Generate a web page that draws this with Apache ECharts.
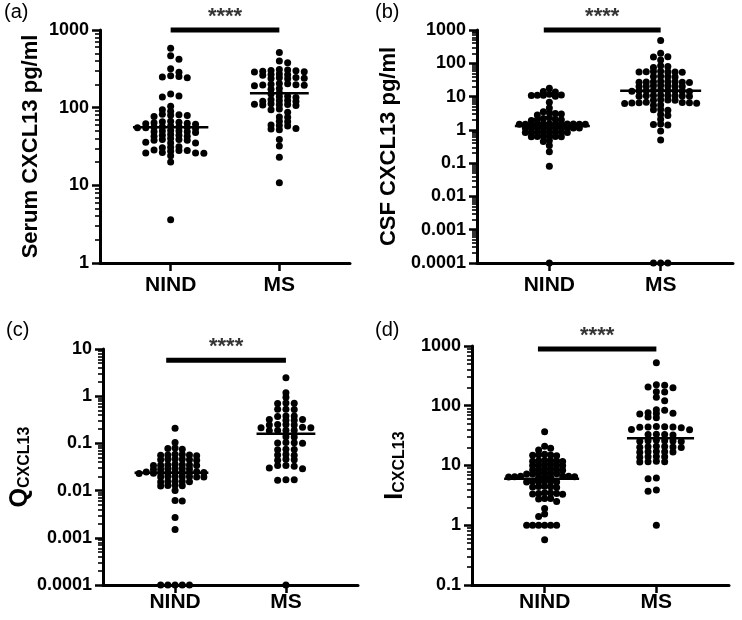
<!DOCTYPE html>
<html><head><meta charset="utf-8">
<script src="https://cdn.jsdelivr.net/npm/echarts@6/dist/echarts.min.js"></script>
<style>html,body{margin:0;padding:0;background:#fff}#c{width:742px;height:620px}</style>
</head><body><div id="c"></div>
<script>
// ---------------- data ----------------
const groups = ['NIND', 'MS'];

const serumNIND = [580, 465, 420, 316, 285, 258, 252, 248, 243, 150, 141, 137, 104, 94, 90,
  82, 81, 80, 79, 77,
  67, 66, 65, 64, 63, 62, 61,
  58, 57, 57, 56, 56, 55, 55, 54,
  51, 50, 50, 49, 49, 48,
  45, 44, 44, 43, 43,
  40, 39, 39, 38, 38,
  36, 35, 35,
  31.5, 31, 30.5,
  28.5, 28, 28, 27.5,
  26.5, 26, 26, 25.8,
  24, 20, 3.6];
const serumMS = [515, 398, 378,
  310, 305, 300, 298, 295, 290, 288,
  272, 268, 265, 262,
  245, 242, 240, 238, 235,
  205, 203, 200, 198, 196, 194, 192,
  177, 172, 155, 150,
  140, 138, 135,
  126, 124, 123, 121, 120,
  112, 111, 110, 109, 108, 107,
  96, 94, 87, 76, 75, 67, 66,
  60, 59, 58, 54, 53, 52,
  39, 32, 23, 10.8];

const csfNIND = [17.7, 14.2, 13.8, 11.8, 11.1, 11, 10.9, 10.8, 10.3,
  6.8,
  4.5, 3.5, 3.3, 3.1, 3.0, 2.8,
  2.3, 2.2, 2.1, 2.0, 2.0, 1.9,
  1.53, 1.52, 1.51, 1.5, 1.5, 1.49, 1.49, 1.48, 1.48, 1.47, 1.47, 1.46,
  1.16, 1.16, 1.15, 1.15, 1.15, 1.14, 1.14, 1.13, 1.13, 1.12,
  0.86, 0.86, 0.85, 0.85, 0.85, 0.84, 0.84, 0.83,
  0.64, 0.64, 0.63, 0.63, 0.62, 0.62,
  0.48, 0.45, 0.34, 0.22, 0.08, 0.0001];
const csfMS = [480, 200, 158, 155, 126, 85, 80, 75,
  58, 57, 56, 56, 55, 55, 54,
  41, 40, 40, 39,
  29, 28.5, 28, 28, 27.5, 27, 27, 26.5,
  21.5, 21, 21, 20.5, 20.5, 20, 20,
  15.5, 15.3, 15.1, 15, 14.9, 14.7, 14.5, 14.4, 14.2,
  10.9, 10.8, 10.7, 10.6, 10.5, 10.4, 10.3, 10.2,
  8.0, 7.9, 7.8, 7.7,
  6.7, 6.6, 6.5, 6.5, 6.4, 6.3, 6.2,
  5.6, 5.5, 4.1, 4.0, 3.9, 2.9, 2.7, 2.1,
  1.5, 1.45, 1.4, 0.93, 0.5,
  0.0001, 0.0001, 0.0001];

const qNIND = [0.21, 0.105, 0.08, 0.078, 0.075,
  0.059, 0.058, 0.057, 0.057, 0.056, 0.055,
  0.047, 0.046, 0.046, 0.045, 0.045, 0.044,
  0.036, 0.0355, 0.035, 0.035, 0.0345, 0.034, 0.034,
  0.0295, 0.029, 0.029, 0.0288, 0.0285, 0.028,
  0.025, 0.0248, 0.0245, 0.0242, 0.024, 0.024, 0.0238, 0.0235, 0.0232, 0.023,
  0.020, 0.0199, 0.0197, 0.0196, 0.0195, 0.0194, 0.0193,
  0.0158, 0.0156, 0.0155, 0.0154, 0.0152,
  0.013, 0.0128, 0.0126, 0.0125,
  0.0101, 0.0062, 0.006, 0.0027, 0.0015,
  0.0001, 0.0001, 0.0001, 0.0001, 0.0001];
const qMS = [2.47, 1.19, 0.95,
  0.72, 0.71, 0.70,
  0.53, 0.53, 0.52,
  0.38, 0.38, 0.37,
  0.32, 0.32, 0.31, 0.31,
  0.25, 0.25, 0.245, 0.245,
  0.22, 0.215, 0.215,
  0.19, 0.19, 0.188, 0.186,
  0.139, 0.137,
  0.104, 0.103, 0.102, 0.101,
  0.075, 0.074, 0.073,
  0.058, 0.057, 0.056,
  0.046, 0.045, 0.044,
  0.034, 0.034, 0.033,
  0.03, 0.029,
  0.017, 0.017, 0.0165,
  0.0001];

const iNIND = [36.8, 21, 19.5, 18.2,
  15.5, 15.2, 15, 14.8, 14.6,
  12.3, 12.1, 12, 11.9, 11.8, 11.7,
  10.4, 10.3, 10.2, 10.1, 10, 9.9,
  8.8, 8.7, 8.6, 8.5, 8.4, 8.3,
  7.5, 7.4, 7.4, 7.3, 7.2, 7.2,
  6.7, 6.6, 6.6, 6.5, 6.5, 6.4, 6.4, 6.3, 6.3,
  5.5, 5.45, 5.4, 5.35, 5.3, 5.3,
  4.5, 4.45, 4.4, 4.35, 4.3,
  3.5, 3.45, 3.4, 3.4, 3.35, 3.3,
  2.8, 2.8, 2.75, 2.5,
  1.9, 1.55, 1.4,
  1, 1, 1, 1, 1, 1,
  0.57];
const iMS = [525,
  225, 220, 205, 200,
  172, 170, 139, 121,
  86, 84,
  76, 75, 74, 73,
  65, 63,
  45, 44.5, 44, 44, 43.5, 43,
  40, 39.5,
  33.5, 33, 33, 32.5,
  26.5, 26, 26, 25.8, 25.5, 25.2,
  21, 20.8, 20.6, 20.4, 20.2, 20,
  17.2, 17, 17, 16.8, 16.6,
  14.2, 14, 14, 13.8,
  11.8, 11.6, 11.5, 11.4,
  6.2, 6.0, 3.9, 3.7, 1.0];

const medianSerum = [56, 153];
const medianCSF = [1.3, 15];
const medianQ = [0.024, 0.16];
const medianI = [6, 28.5];

const ticksSerum = [1, 10, 100, 1000];
const labelsSerum = ['1', '10', '100', '1000'];
const ticksCSF = [0.0001, 0.001, 0.01, 0.1, 1, 10, 100, 1000];
const labelsCSF = ['0.0001', '0.001', '0.01', '0.1', '1', '10', '100', '1000'];
const ticksQ = [0.0001, 0.001, 0.01, 0.1, 1, 10];
const labelsQ = ['0.0001', '0.001', '0.01', '0.1', '1', '10'];
const ticksI = [0.1, 1, 10, 100, 1000];
const labelsI = ['0.1', '1', '10', '100', '1000'];

const sigLevel = [1000, 1000, 5.8, 890];
const sigStart = [1.0, 0.95, 0.92, 0.94];
const sigEnd = [2.0, 2.0, 2.0, 2.0];
const sigText = '****';

// ---------------- layout ----------------
const FONT = '"Liberation Sans", Arial, Helvetica, sans-serif';
const XMIN = 0.35, XMAX = 2.65;
const DX = 8.3, MAXHALF = 36, VGAP = 3.8, DOT = 7;

const panels = [
  { letter: '(a)', name: 'Serum CXCL13 pg/ml', data: [serumNIND, serumMS], med: medianSerum,
    ticks: ticksSerum, labels: labelsSerum, grid: { left: 100, top: 30, width: 250, height: 233 },
    nameGap: 58, letterPos: [4, 2], xMargin: 12 },
  { letter: '(b)', name: 'CSF CXCL13 pg/ml', data: [csfNIND, csfMS], med: medianCSF,
    ticks: ticksCSF, labels: labelsCSF, grid: { left: 477, top: 30, width: 256, height: 233 },
    nameGap: 77, letterPos: [375, 2], xMargin: 12 },
  { letter: '(c)', name: '{a|Q}{b|CXCL13}', data: [qNIND, qMS], med: medianQ,
    ticks: ticksQ, labels: labelsQ, grid: { left: 103, top: 349, width: 255, height: 236 },
    nameGap: 65, letterPos: [6, 320], xMargin: 7 },
  { letter: '(d)', name: '{a|I}{b|CXCL13}', data: [iNIND, iMS], med: medianI,
    ticks: ticksI, labels: labelsI, grid: { left: 472, top: 346, width: 257, height: 239 },
    nameGap: 64, letterPos: [375, 320], xMargin: 7 }
];

function swarm(values, center, p) {
  const lo = Math.log10(p.ticks[0]), hi = Math.log10(p.ticks[p.ticks.length - 1]);
  const pxY = p.grid.height / (hi - lo);
  const pxX = p.grid.width / (XMAX - XMIN);
  const pts = values.map(v => ({ v, py: (Math.log10(v) - lo) * pxY })).sort((a, b) => b.py - a.py);
  const cols = new Map();
  let flip = 1, maxK = 0;
  pts.forEach(pt => {
    let k = null;
    for (let j = 0; k === null; j++) {
      const cands = j === 0 ? [0] : (flip > 0 ? [j, -j] : [-j, j]);
      for (const c of cands) {
        const arr = cols.get(c) || [];
        if (!arr.some(q => Math.abs(q - pt.py) < VGAP)) {
          k = c; arr.push(pt.py); cols.set(c, arr); break;
        }
      }
    }
    pt.k = k; flip = -flip; maxK = Math.max(maxK, Math.abs(k));
  });
  const step = Math.min(DX, maxK ? MAXHALF / maxK : DX);
  const pts2 = pts.map(pt => [center + pt.k * step / pxX, pt.v]);
  let xmin = center, xmax = center;
  pts2.forEach(d => { xmin = Math.min(xmin, d[0]); xmax = Math.max(xmax, d[0]); });
  const pad = (DOT / 2 + 1) / pxX;
  return { pts: pts2, x0: xmin - pad, x1: xmax + pad };
}

function minorOf(ticks) {
  const out = [];
  for (let i = 0; i < ticks.length - 1; i++) for (let m = 2; m <= 9; m++) out.push(+(ticks[i] * m).toPrecision(6));
  return out;
}

const grid = [], xAxis = [], yAxis = [], series = [], graphic = [];
panels.forEach((p, i) => {
  grid.push(Object.assign({ containLabel: false }, p.grid));
  xAxis.push({
    type: 'value', gridIndex: i, min: XMIN, max: XMAX,
    axisLine: { show: true, lineStyle: { color: '#000', width: 3 } },
    axisTick: { show: true, customValues: [1, 2], length: 8, lineStyle: { color: '#000', width: 2.5 } },
    axisLabel: { show: true, customValues: [1, 2], margin: p.xMargin, formatter: v => groups[Math.round(v) - 1] || '',
      color: '#000', fontSize: 21, fontWeight: 'bold', fontFamily: FONT },
    splitLine: { show: false }
  });
  const yMin = p.ticks[0], yMax = p.ticks[p.ticks.length - 1];
  yAxis.push({
    type: 'log', logBase: 10, gridIndex: i, position: 'left', min: yMin, max: yMax,
    name: p.name, nameLocation: 'middle', nameRotate: 90, nameGap: p.nameGap,
    nameTextStyle: { color: '#000', fontSize: 22, fontWeight: 'bold', fontFamily: FONT,
      rich: { a: { fontSize: 25, fontWeight: 'bold', fontFamily: FONT, color: '#000' },
              b: { fontSize: 16, fontWeight: 'bold', fontFamily: FONT, color: '#000', verticalAlign: 'bottom' } } },
    axisLine: { show: true, lineStyle: { color: '#000', width: 3 } },
    axisTick: { show: true, customValues: p.ticks, length: 8, lineStyle: { color: '#000', width: 2.5 } },
    axisLabel: { show: true, customValues: p.ticks, margin: 11, color: '#000', fontSize: 18, fontWeight: 'bold', fontFamily: FONT,
      formatter: v => {
        let best = 0, bd = Infinity;
        p.ticks.forEach((t, j) => { const d = Math.abs(Math.log10(t) - Math.log10(v)); if (d < bd) { bd = d; best = j; } });
        return p.labels[best];
      } },
    splitLine: { show: false }, minorTick: { show: false }
  });
  yAxis.push({
    type: 'log', logBase: 10, gridIndex: i, position: 'left', offset: 0, min: yMin, max: yMax,
    axisLine: { show: false },
    axisTick: { show: true, customValues: minorOf(p.ticks), length: 5, lineStyle: { color: '#000', width: 1.6 } },
    axisLabel: { show: false }, splitLine: { show: false }
  });
  const yIdx = i * 2;
  p.data.forEach((vals, g) => {
    const s = swarm(vals, g + 1, p);
    series.push({
      type: 'scatter', xAxisIndex: i, yAxisIndex: yIdx, data: s.pts, symbol: 'circle', symbolSize: DOT,
      itemStyle: { color: '#000', opacity: 1 }, clip: false, silent: true, z: 3
    });
    series.push({
      type: 'line', xAxisIndex: i, yAxisIndex: yIdx, data: [[s.x0, p.med[g]], [s.x1, p.med[g]]],
      symbol: 'none', lineStyle: { color: '#000', width: 2.5 }, clip: false, silent: true, z: 4
    });
  });
  series.push({
    type: 'line', xAxisIndex: i, yAxisIndex: yIdx, data: [[sigStart[i], sigLevel[i]], [sigEnd[i], sigLevel[i]]],
    symbol: 'none', lineStyle: { color: '#000', width: 5, cap: 'butt' }, clip: false, silent: true, z: 4
  });
  series.push({
    type: 'scatter', xAxisIndex: i, yAxisIndex: yIdx, data: [[(sigStart[i] + sigEnd[i]) / 2, sigLevel[i]]],
    symbolSize: 0, itemStyle: { color: 'rgba(0,0,0,0)' }, clip: false, silent: true, z: 5,
    label: { show: true, position: 'top', distance: 2, formatter: sigText, color: '#000', fontSize: 22,
      fontWeight: 'bold', fontFamily: FONT }
  });
  graphic.push({ type: 'text', left: p.letterPos[0], top: p.letterPos[1],
    style: { text: p.letter, fill: '#000', font: '20px ' + FONT } });
});

const chart = echarts.init(document.getElementById('c'), null, { renderer: 'canvas' });
chart.setOption({
  animation: false, backgroundColor: '#fff',
  textStyle: { fontFamily: FONT },
  grid, xAxis, yAxis, series, graphic
});
</script></body></html>
